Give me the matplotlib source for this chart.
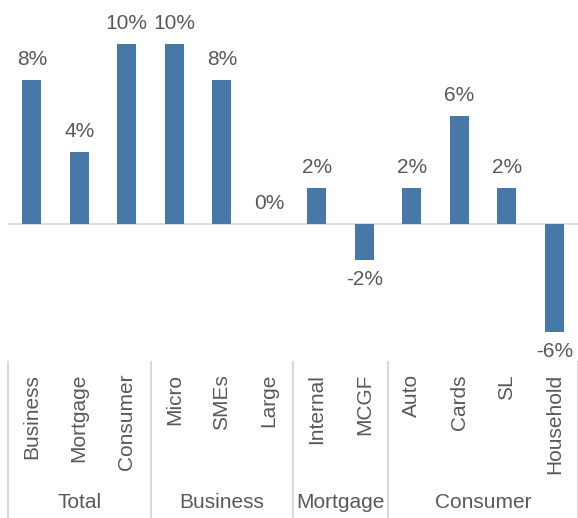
import matplotlib.pyplot as plt
from matplotlib.transforms import blended_transform_factory

categories = ['Business', 'Mortgage', 'Consumer', 'Micro', 'SMEs', 'Large',
              'Internal', 'MCGF', 'Auto', 'Cards', 'SL', 'Household']
values = [8, 4, 10, 10, 8, 0, 2, -2, 2, 6, 2, -6]
groups = ['Total', 'Business', 'Mortgage', 'Consumer']
group_sizes = [3, 3, 2, 4]

bar_color = '#4878A8'
text_color = '#595959'
line_color = '#D9D9D9'
plt.rcParams['font.family'] = ['Liberation Sans', 'DejaVu Sans']

W, H = 578, 518
fig = plt.figure(figsize=(W / 100, H / 100), dpi=100)
# axes spans pixel x 8..578, y 0..350 (from top)
ax = fig.add_axes([8 / W, 1 - 350 / H, 570 / W, 350 / H])
n = len(categories)
x = list(range(n))
ax.bar(x, values, width=0.4, color=bar_color, zorder=2)
ax.set_xlim(-0.5, n - 0.5)
ax.set_ylim(-(350 - 224) / 18, 224 / 18)
ax.axhline(0, color=line_color, lw=1.2, zorder=1)
for s in ax.spines.values():
    s.set_visible(False)
ax.set_xticks([])
ax.set_yticks([])

for xi, v in zip(x, values):
    if v >= 0:
        ax.annotate(f'{v}%', (xi, v), xytext=(0, 8), textcoords='offset points',
                    ha='center', va='bottom', fontsize=15, color=text_color)
    else:
        ax.annotate(f'{v}%', (xi, v), xytext=(0, -7), textcoords='offset points',
                    ha='center', va='top', fontsize=15, color=text_color)

tr = blended_transform_factory(ax.transData, fig.transFigure)
for xi, c in zip(x, categories):
    ax.text(xi, 1 - 374 / H, c, rotation=90, ha='center', va='top',
            fontsize=15, color=text_color, transform=tr, clip_on=False)

start = 0
bounds = [start]
for g, size in zip(groups, group_sizes):
    mid = start + (size - 1) / 2
    ax.text(mid, 1 - 503 / H, g, ha='center', va='center', fontsize=15,
            color=text_color, transform=tr, clip_on=False)
    start += size
    bounds.append(start)

for b in bounds:
    ax.plot([b - 0.5, b - 0.5], [1 - 362 / H, 0], color=line_color, lw=1.5,
            transform=tr, clip_on=False)

fig.savefig('out.png', dpi=100)
